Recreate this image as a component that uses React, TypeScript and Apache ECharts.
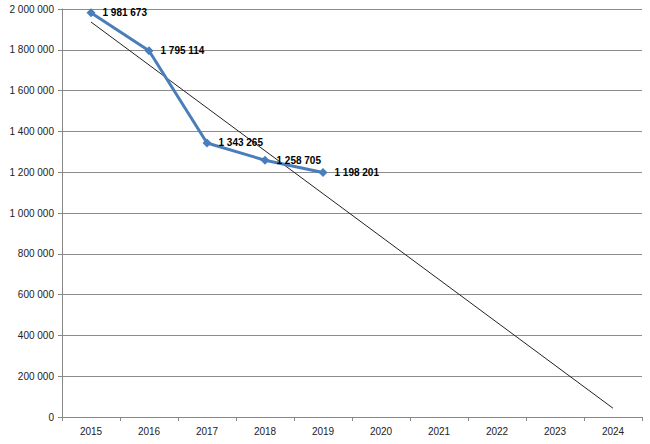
import React, { useEffect, useRef } from "react";
import * as echarts from "echarts";

const years = ["2015", "2016", "2017", "2018", "2019", "2020", "2021", "2022", "2023", "2024"];
const actual = [1981673, 1795114, 1343265, 1258705, 1198201, null, null, null, null, null];
const trend = [1936062, null, null, null, null, null, null, null, null, 43044];
const yTicks = { min: 0, max: 2000000, interval: 200000 };

const fmt = (v: number) => String(Math.round(v)).replace(/\B(?=(\d{3})+(?!\d))/g, " ");

export default function App() {
  const ref = useRef<HTMLDivElement>(null);
  useEffect(() => {
    const chart = echarts.init(ref.current!, null, { renderer: "svg" });
    chart.setOption({
      animation: false,
      grid: { left: 62, right: 8, top: 9, bottom: 27 },
      xAxis: {
        type: "category",
        data: years,
        boundaryGap: true,
        axisLine: { lineStyle: { color: "#888888" } },
        axisTick: { show: true, length: 4, lineStyle: { color: "#888888" } },
        axisLabel: { color: "#222", fontFamily: "Liberation Sans", fontSize: 10, margin: 9 },
      },
      yAxis: {
        type: "value",
        min: yTicks.min,
        max: yTicks.max,
        interval: yTicks.interval,
        axisLine: { show: true, lineStyle: { color: "#888888" } },
        axisTick: { show: true, length: 4, lineStyle: { color: "#888888" } },
        splitLine: { lineStyle: { color: "#8c8c8c", width: 1 } },
        axisLabel: { color: "#222", fontFamily: "Liberation Sans", fontSize: 10, margin: 8, formatter: (v: number) => fmt(v) },
      },
      series: [
        {
          type: "line",
          data: trend,
          connectNulls: true,
          symbol: "none",
          lineStyle: { color: "#222", width: 1 },
          silent: true,
          z: 2,
        },
        {
          type: "line",
          data: actual,
          symbol: "diamond",
          symbolSize: 9,
          itemStyle: { color: "#4a7ebb" },
          lineStyle: { color: "#4a7ebb", width: 3 },
          label: {
            show: true,
            position: "right",
            distance: 7,
            color: "#000",
            fontFamily: "Liberation Sans",
            fontSize: 10,
            fontWeight: "bold",
            formatter: (p: any) => fmt(p.value),
          },
          z: 3,
        },
      ],
    });
    return () => chart.dispose();
  }, []);
  return <div ref={ref} style={{ width: 650, height: 444, position: "absolute", left: 0, top: 0, background: "#fff" }} />;
}
